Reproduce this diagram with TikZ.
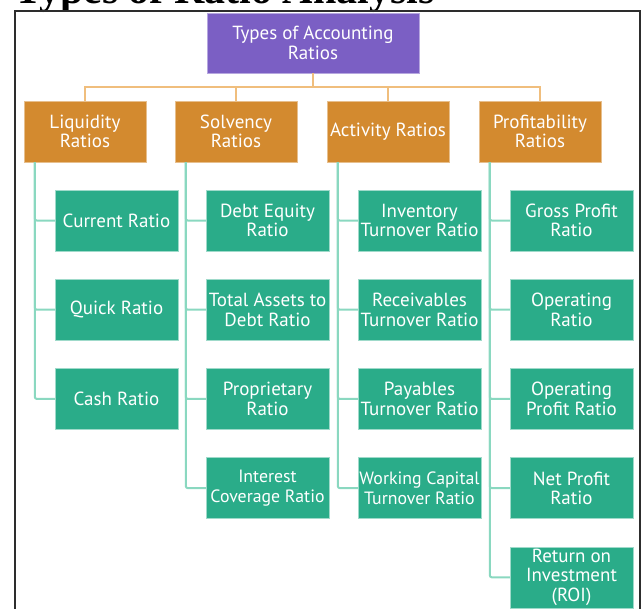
\documentclass[tikz,border=0pt]{standalone}
\usepackage{fontspec}
\setmainfont{PT Sans}
\newfontfamily\titlefont{Liberation Serif}
\usetikzlibrary{positioning}
\definecolor{RootPurple}{RGB}{123,95,196}
\definecolor{CatOrange}{RGB}{211,138,47}
\definecolor{LeafGreen}{RGB}{42,172,137}
\definecolor{BusOrange}{RGB}{240,190,125}
\definecolor{StemGreen}{RGB}{138,216,192}
\definecolor{FrameGray}{RGB}{45,45,45}

\begin{document}
\begin{tikzpicture}[
        x=1pt, y=-1pt,
        % --- BOX STYLES ---
        boxbase/.style={
            rectangle,
            text=white,
            align=center,
            inner sep=0pt,
            font=\fontsize{19}{19.5}\selectfont
        },
        rootbox/.style={
            boxbase,
            fill=RootPurple, draw=RootPurple!55!white,
            minimum width=212pt, minimum height=60pt
        },
        catbox/.style={
            boxbase,
            fill=CatOrange, draw=CatOrange!55!white,
            minimum width=122pt, minimum height=61pt
        },
        leafbox/.style={
            boxbase,
            fill=LeafGreen, draw=LeafGreen!45!white,
            minimum width=123pt, minimum height=61pt
        },
        smalltext/.style={font=\fontsize{17.8}{19.5}\selectfont},
        % --- CONNECTOR STYLES ---
        bus/.style={draw=BusOrange, line width=2pt},
        stem/.style={draw=StemGreen, line width=2pt, rounded corners=2pt}
    ]
    \useasboundingbox (0,0) rectangle (644,608);

    % --- TITLE AND FRAME ---
    \node[anchor=base west, inner sep=0pt,
          font=\titlefont\bfseries\fontsize{42}{42}\selectfont] (title) at (14,3) {Types of Ratio Analysis};
    \draw[FrameGray, line width=2pt] (15,11) rectangle (640,640);

    % --- ROOT AND CATEGORIES ---
    \node[rootbox] (root) at (313,43) {Types of Accounting\\Ratios};

    \node[catbox] (liq) at (85,131.5) {Liquidity\\Ratios};
    \node[catbox] (sol) at (236,131.5) {Solvency\\Ratios};
    \node[catbox] (act) at (388,131.5) {Activity Ratios};
    \node[catbox] (pro) at (540,131.5) {Profitability\\Ratios};

    \coordinate (busmid) at ([yshift=-14pt]root.south);
    \draw[bus] (root.south) -- (busmid);
    \foreach \c in {liq, sol, act, pro} {
        \draw[bus] (busmid) -| (\c.north);
    }

    % --- LEAF BOXES ---
    \foreach \txt [count=\i] in {Current Ratio, Quick Ratio, Cash Ratio} {
        \node[leafbox] (liq-\i) at (116.5, {220.5+89.2*(\i-1)}) {\txt};
        \draw[stem] ([xshift=11pt]liq.south west) |- (liq-\i.west);
    }
    \foreach \txt [count=\i] in {{Debt Equity\\Ratio}, {Total Assets to\\Debt Ratio}, {Proprietary\\Ratio}} {
        \node[leafbox] (sol-\i) at (267.5, {220.5+89.2*(\i-1)}) {\txt};
        \draw[stem] ([xshift=11pt]sol.south west) |- (sol-\i.west);
    }
    \node[leafbox, smalltext] (sol-4) at (267.5, 488.1) {Interest\\Coverage Ratio};
    \draw[stem] ([xshift=11pt]sol.south west) |- (sol-4.west);

    \foreach \txt [count=\i] in {{Inventory\\Turnover Ratio}, {Receivables\\Turnover Ratio}, {Payables\\Turnover Ratio}} {
        \node[leafbox] (act-\i) at (419.5, {220.5+89.2*(\i-1)}) {\txt};
        \draw[stem] ([xshift=11pt]act.south west) |- (act-\i.west);
    }
    \node[leafbox, smalltext] (act-4) at (419.5, 488.1) {Working Capital\\Turnover Ratio};
    \draw[stem] ([xshift=11pt]act.south west) |- (act-4.west);

    \foreach \txt [count=\i] in {{Gross Profit\\Ratio}, {Operating\\Ratio}, {Operating\\Profit Ratio}, {Net Profit\\Ratio}, {Return on\\Investment\\(ROI)}} {
        \node[leafbox] (pro-\i) at (571.5, {220.5+89.2*(\i-1)}) {\txt};
        \draw[stem] ([xshift=11pt]pro.south west) |- (pro-\i.west);
    }

\end{tikzpicture}
\end{document}
